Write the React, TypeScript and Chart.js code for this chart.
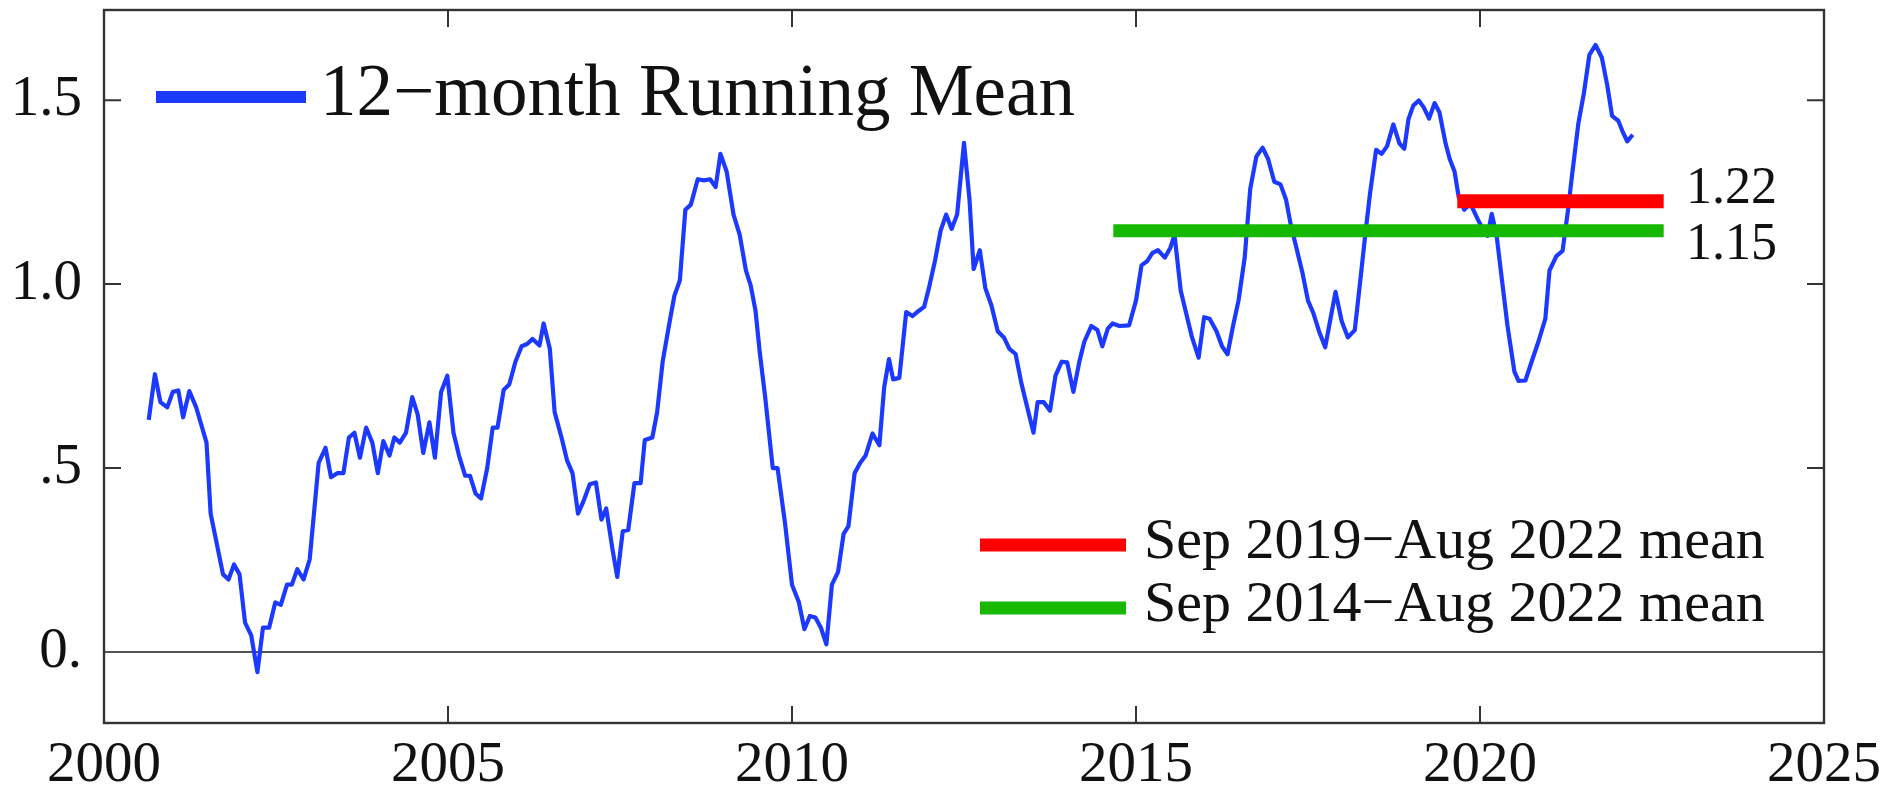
import React, { useEffect, useRef } from "react";
import { Chart, registerables } from "chart.js";

Chart.register(...registerables);

// ---- data ----
const years = [
  2000.65, 2000.74, 2000.82, 2000.92, 2001.0, 2001.08, 2001.15, 2001.24, 2001.34, 2001.49,
  2001.55, 2001.73, 2001.81, 2001.89, 2001.97, 2002.05, 2002.14, 2002.23, 2002.31, 2002.4,
  2002.49, 2002.57, 2002.66, 2002.73, 2002.81, 2002.9, 2002.99, 2003.12, 2003.22, 2003.3,
  2003.39, 2003.48, 2003.56, 2003.64, 2003.72, 2003.81, 2003.9, 2003.98, 2004.06, 2004.15,
  2004.22, 2004.3, 2004.39, 2004.48, 2004.56, 2004.64, 2004.73, 2004.81, 2004.9, 2004.99,
  2005.08, 2005.16, 2005.25, 2005.32, 2005.4, 2005.48, 2005.57, 2005.65, 2005.72, 2005.81,
  2005.89, 2005.98, 2006.07, 2006.15, 2006.23, 2006.33, 2006.39, 2006.48, 2006.55, 2006.65,
  2006.73, 2006.81, 2006.89, 2006.97, 2007.06, 2007.15, 2007.23, 2007.3, 2007.39, 2007.46,
  2007.54, 2007.62, 2007.71, 2007.8, 2007.86, 2007.97, 2008.04, 2008.12, 2008.21, 2008.29,
  2008.37, 2008.45, 2008.53, 2008.63, 2008.72, 2008.81, 2008.89, 2008.96, 2009.05, 2009.15,
  2009.24, 2009.33, 2009.4, 2009.47, 2009.53, 2009.61, 2009.72, 2009.79, 2009.9, 2010.0,
  2010.1, 2010.18, 2010.26, 2010.34, 2010.42, 2010.5, 2010.58, 2010.67, 2010.75, 2010.82,
  2010.91, 2010.99, 2011.07, 2011.17, 2011.27, 2011.34, 2011.41, 2011.47, 2011.56, 2011.66,
  2011.75, 2011.84, 2011.92, 2011.99, 2012.08, 2012.16, 2012.24, 2012.32, 2012.4, 2012.5,
  2012.58, 2012.64, 2012.73, 2012.81, 2012.9, 2012.99, 2013.08, 2013.16, 2013.25, 2013.33,
  2013.41, 2013.51, 2013.57, 2013.66, 2013.75, 2013.83, 2013.92, 2014.0, 2014.09, 2014.18,
  2014.25, 2014.35, 2014.44, 2014.51, 2014.59, 2014.66, 2014.76, 2014.9, 2015.0, 2015.08,
  2015.16, 2015.24, 2015.32, 2015.42, 2015.5, 2015.56, 2015.65, 2015.73, 2015.81, 2015.91,
  2015.99, 2016.07, 2016.17, 2016.25, 2016.33, 2016.41, 2016.49, 2016.58, 2016.66, 2016.75,
  2016.84, 2016.92, 2017.01, 2017.1, 2017.18, 2017.25, 2017.34, 2017.42, 2017.5, 2017.58,
  2017.66, 2017.75, 2017.82, 2017.9, 2017.99, 2018.08, 2018.18, 2018.26, 2018.34, 2018.4,
  2018.49, 2018.57, 2018.65, 2018.74, 2018.83, 2018.9, 2018.96, 2019.03, 2019.11, 2019.18,
  2019.26, 2019.34, 2019.41, 2019.5, 2019.56, 2019.63, 2019.69, 2019.77, 2019.86, 2019.97,
  2020.05, 2020.11, 2020.17, 2020.24, 2020.32, 2020.4, 2020.5, 2020.56, 2020.66, 2020.75,
  2020.85, 2020.95, 2021.01, 2021.11, 2021.2, 2021.28, 2021.34, 2021.43, 2021.51, 2021.59,
  2021.68, 2021.77, 2021.85, 2021.92, 2022.01, 2022.07, 2022.14, 2022.22,
];

const runningMean = [
  0.631, 0.755, 0.679, 0.665, 0.707, 0.711, 0.638, 0.709, 0.665, 0.569,
  0.376, 0.211, 0.197, 0.238, 0.211, 0.08, 0.045, -0.055, 0.066, 0.066,
  0.135, 0.128, 0.183, 0.183, 0.225, 0.197, 0.252, 0.514, 0.555, 0.475,
  0.486, 0.486, 0.583, 0.596, 0.528, 0.61, 0.569, 0.486, 0.573, 0.534,
  0.583, 0.569, 0.596, 0.693, 0.645, 0.541, 0.624, 0.528, 0.707, 0.751,
  0.596, 0.534, 0.479, 0.479, 0.431, 0.417, 0.5, 0.61, 0.61, 0.713,
  0.727, 0.789, 0.831, 0.837, 0.851, 0.833, 0.893, 0.824, 0.652, 0.583,
  0.521, 0.486, 0.376, 0.41, 0.456, 0.461, 0.36, 0.39, 0.28, 0.204,
  0.328, 0.332, 0.459, 0.459, 0.576, 0.583, 0.652, 0.789, 0.886, 0.968,
  1.01, 1.202, 1.216, 1.285, 1.282, 1.285, 1.264, 1.354, 1.306, 1.189,
  1.134, 1.037, 0.996, 0.927, 0.817, 0.693, 0.5, 0.5, 0.348, 0.183,
  0.135, 0.062, 0.098, 0.094, 0.066, 0.021, 0.183, 0.218, 0.321, 0.342,
  0.486, 0.514, 0.534, 0.594, 0.562, 0.72, 0.796, 0.741, 0.745, 0.924,
  0.913, 0.927, 0.938, 0.989, 1.065, 1.145, 1.189, 1.15, 1.189, 1.384,
  1.23, 1.041, 1.092, 0.989, 0.941, 0.872, 0.855, 0.824, 0.81, 0.734,
  0.672, 0.596, 0.679, 0.679, 0.656, 0.751, 0.789, 0.787, 0.707, 0.792,
  0.844, 0.886, 0.875, 0.831, 0.879, 0.893, 0.886, 0.888, 0.955, 1.051,
  1.062, 1.085, 1.092, 1.072, 1.099, 1.134, 0.982, 0.92, 0.858, 0.8,
  0.91, 0.906, 0.872, 0.831, 0.809, 0.886, 0.955, 1.072, 1.258, 1.347,
  1.371, 1.34, 1.278, 1.271, 1.23, 1.161, 1.092, 1.03, 0.955, 0.92,
  0.872, 0.828, 0.899, 0.979, 0.899, 0.855, 0.875, 1.01, 1.147, 1.244,
  1.365, 1.354, 1.375, 1.434, 1.382, 1.368, 1.448, 1.485, 1.499, 1.481,
  1.45, 1.492, 1.467, 1.382, 1.34, 1.306, 1.237, 1.202, 1.219, 1.175,
  1.147, 1.131, 1.191, 1.134, 1.01, 0.886, 0.762, 0.737, 0.738, 0.789,
  0.844, 0.906, 1.037, 1.076, 1.09, 1.202, 1.299, 1.437, 1.519, 1.623,
  1.65, 1.616, 1.54, 1.457, 1.444, 1.416, 1.388, 1.406,
];

const recentMeanYears = [2019.67, 2022.67];
const recentMeanValue = 1.225;
const longMeanYears = [2014.67, 2022.67];
const longMeanValue = 1.145;

const xTickValues = [2000, 2005, 2010, 2015, 2020, 2025];
const xTickLabels = ["2000", "2005", "2010", "2015", "2020", "2025"];
const yTickValues = [0, 0.5, 1.0, 1.5];
const yTickLabels = ["0.", ".5", "1.0", "1.5"];
const meanLabels = ["1.22", "1.15"];
const seriesLabels = [
  "Sep 2019\u2212Aug 2022 mean",
  "Sep 2014\u2212Aug 2022 mean",
  "12\u2212month Running Mean",
];

// ---- styles ----
const BLUE = "rgb(28, 58, 255)";
const RED = "rgb(255, 0, 0)";
const GREEN = "rgb(22, 184, 0)";
const SERIF = "'Liberation Serif', 'Times New Roman', serif";

const decorPlugin = {
  id: "decor",
  beforeDatasetsDraw(chart: any) {
    const { ctx, chartArea: a, scales } = chart;
    const y0 = scales.y.getPixelForValue(0);
    ctx.save();
    ctx.strokeStyle = "#1a1a1a";
    ctx.lineWidth = 1.6;
    ctx.beginPath();
    ctx.moveTo(a.left, y0);
    ctx.lineTo(a.right, y0);
    ctx.stroke();
    ctx.restore();
  },
  afterDatasetsDraw(chart: any) {
    const { ctx, chartArea: a, scales } = chart;
    const ds = chart.data.datasets;
    ctx.save();
    // frame
    ctx.strokeStyle = "#333";
    ctx.lineWidth = 2.4;
    ctx.strokeRect(a.left, a.top, a.right - a.left, a.bottom - a.top);
    // inward ticks
    const TL = 17;
    ctx.lineWidth = 2;
    ctx.beginPath();
    xTickValues.forEach((v) => {
      const px = scales.x.getPixelForValue(v);
      if (px <= a.left + 1 || px >= a.right - 1) return;
      ctx.moveTo(px, a.bottom);
      ctx.lineTo(px, a.bottom - TL);
      ctx.moveTo(px, a.top);
      ctx.lineTo(px, a.top + TL);
    });
    yTickValues.forEach((v) => {
      if (v === 0) return;
      const py = scales.y.getPixelForValue(v);
      ctx.moveTo(a.left, py);
      ctx.lineTo(a.left + TL, py);
      ctx.moveTo(a.right, py);
      ctx.lineTo(a.right - TL, py);
    });
    ctx.stroke();

    // mean value labels
    ctx.fillStyle = "#111";
    ctx.font = `52px ${SERIF}`;
    ctx.textAlign = "left";
    ctx.textBaseline = "alphabetic";
    ctx.fillText(meanLabels[0], 1686, 203);
    ctx.fillText(meanLabels[1], 1686, 259);

    // legend: running mean
    ctx.lineCap = "butt";
    ctx.strokeStyle = ds[2].borderColor;
    ctx.lineWidth = 12;
    ctx.beginPath();
    ctx.moveTo(156, 97);
    ctx.lineTo(306, 97);
    ctx.stroke();
    ctx.font = `73px ${SERIF}`;
    ctx.fillText(ds[2].label, 320, 115);

    // legend: means
    ctx.font = `58px ${SERIF}`;
    const rows = [
      { d: ds[0], y: 545, base: 558 },
      { d: ds[1], y: 608, base: 621 },
    ];
    rows.forEach((r) => {
      ctx.strokeStyle = r.d.borderColor;
      ctx.lineWidth = 13;
      ctx.beginPath();
      ctx.moveTo(980, r.y);
      ctx.lineTo(1126, r.y);
      ctx.stroke();
      ctx.fillText(r.d.label, 1144, r.base);
    });
    ctx.restore();
  },
};

export default function App() {
  const ref = useRef<HTMLCanvasElement>(null);
  useEffect(() => {
    const pts = years.map((x, i) => ({ x, y: runningMean[i] }));
    const recent = recentMeanYears.map((x) => ({ x, y: recentMeanValue }));
    const long = longMeanYears.map((x) => ({ x, y: longMeanValue }));
    const tickFont = { family: SERIF, size: 57 };
    const chart = new Chart(ref.current as HTMLCanvasElement, {
      type: "line",
      data: {
        datasets: [
          { label: seriesLabels[0], data: recent, borderColor: RED, borderWidth: 14, pointRadius: 0, borderCapStyle: "butt" },
          { label: seriesLabels[1], data: long, borderColor: GREEN, borderWidth: 13, pointRadius: 0, borderCapStyle: "butt" },
          { label: seriesLabels[2], data: pts, borderColor: BLUE, borderWidth: 4.2, pointRadius: 0, tension: 0, borderJoinStyle: "round" },
        ],
      } as any,
      options: {
        animation: false,
        responsive: false,
        devicePixelRatio: 1,
        layout: { padding: { top: 10, right: 65, bottom: 0, left: 0 } },
        plugins: { legend: { display: false }, tooltip: { enabled: false } },
        scales: {
          x: {
            type: "linear",
            min: 2000,
            max: 2025,
            grid: { display: false, drawTicks: false },
            border: { display: false },
            afterBuildTicks: (s: any) => {
              s.ticks = xTickValues.map((v) => ({ value: v }));
            },
            afterFit: (s: any) => {
              s.height = 67;
              s.paddingLeft = 0;
              s.paddingRight = 0;
              s.paddingTop = 0;
              s.paddingBottom = 0;
            },
            ticks: {
              autoSkip: false,
              maxRotation: 0,
              padding: 9,
              color: "#111",
              font: tickFont,
              callback: (v: any) => {
                const i = xTickValues.indexOf(Number(v));
                return i >= 0 ? xTickLabels[i] : "";
              },
            },
          },
          y: {
            type: "linear",
            min: -0.193,
            max: 1.745,
            grid: { display: false, drawTicks: false },
            border: { display: false },
            afterBuildTicks: (s: any) => {
              s.ticks = yTickValues.map((v) => ({ value: v }));
            },
            afterFit: (s: any) => {
              s.width = 104;
              s.paddingLeft = 0;
              s.paddingRight = 0;
              s.paddingTop = 0;
              s.paddingBottom = 0;
            },
            ticks: {
              padding: 22,
              color: "#111",
              font: tickFont,
              callback: (v: any) => {
                const i = yTickValues.indexOf(Number(v));
                return i >= 0 ? yTickLabels[i] : "";
              },
            },
          },
        },
      } as any,
      plugins: [decorPlugin],
    });
    return () => chart.destroy();
  }, []);
  return (
    <div style={{ position: "absolute", left: 0, top: 0, width: 1889, height: 790, background: "#fff" }}>
      <canvas ref={ref} width={1889} height={790} style={{ display: "block", width: 1889, height: 790 }} />
    </div>
  );
}
